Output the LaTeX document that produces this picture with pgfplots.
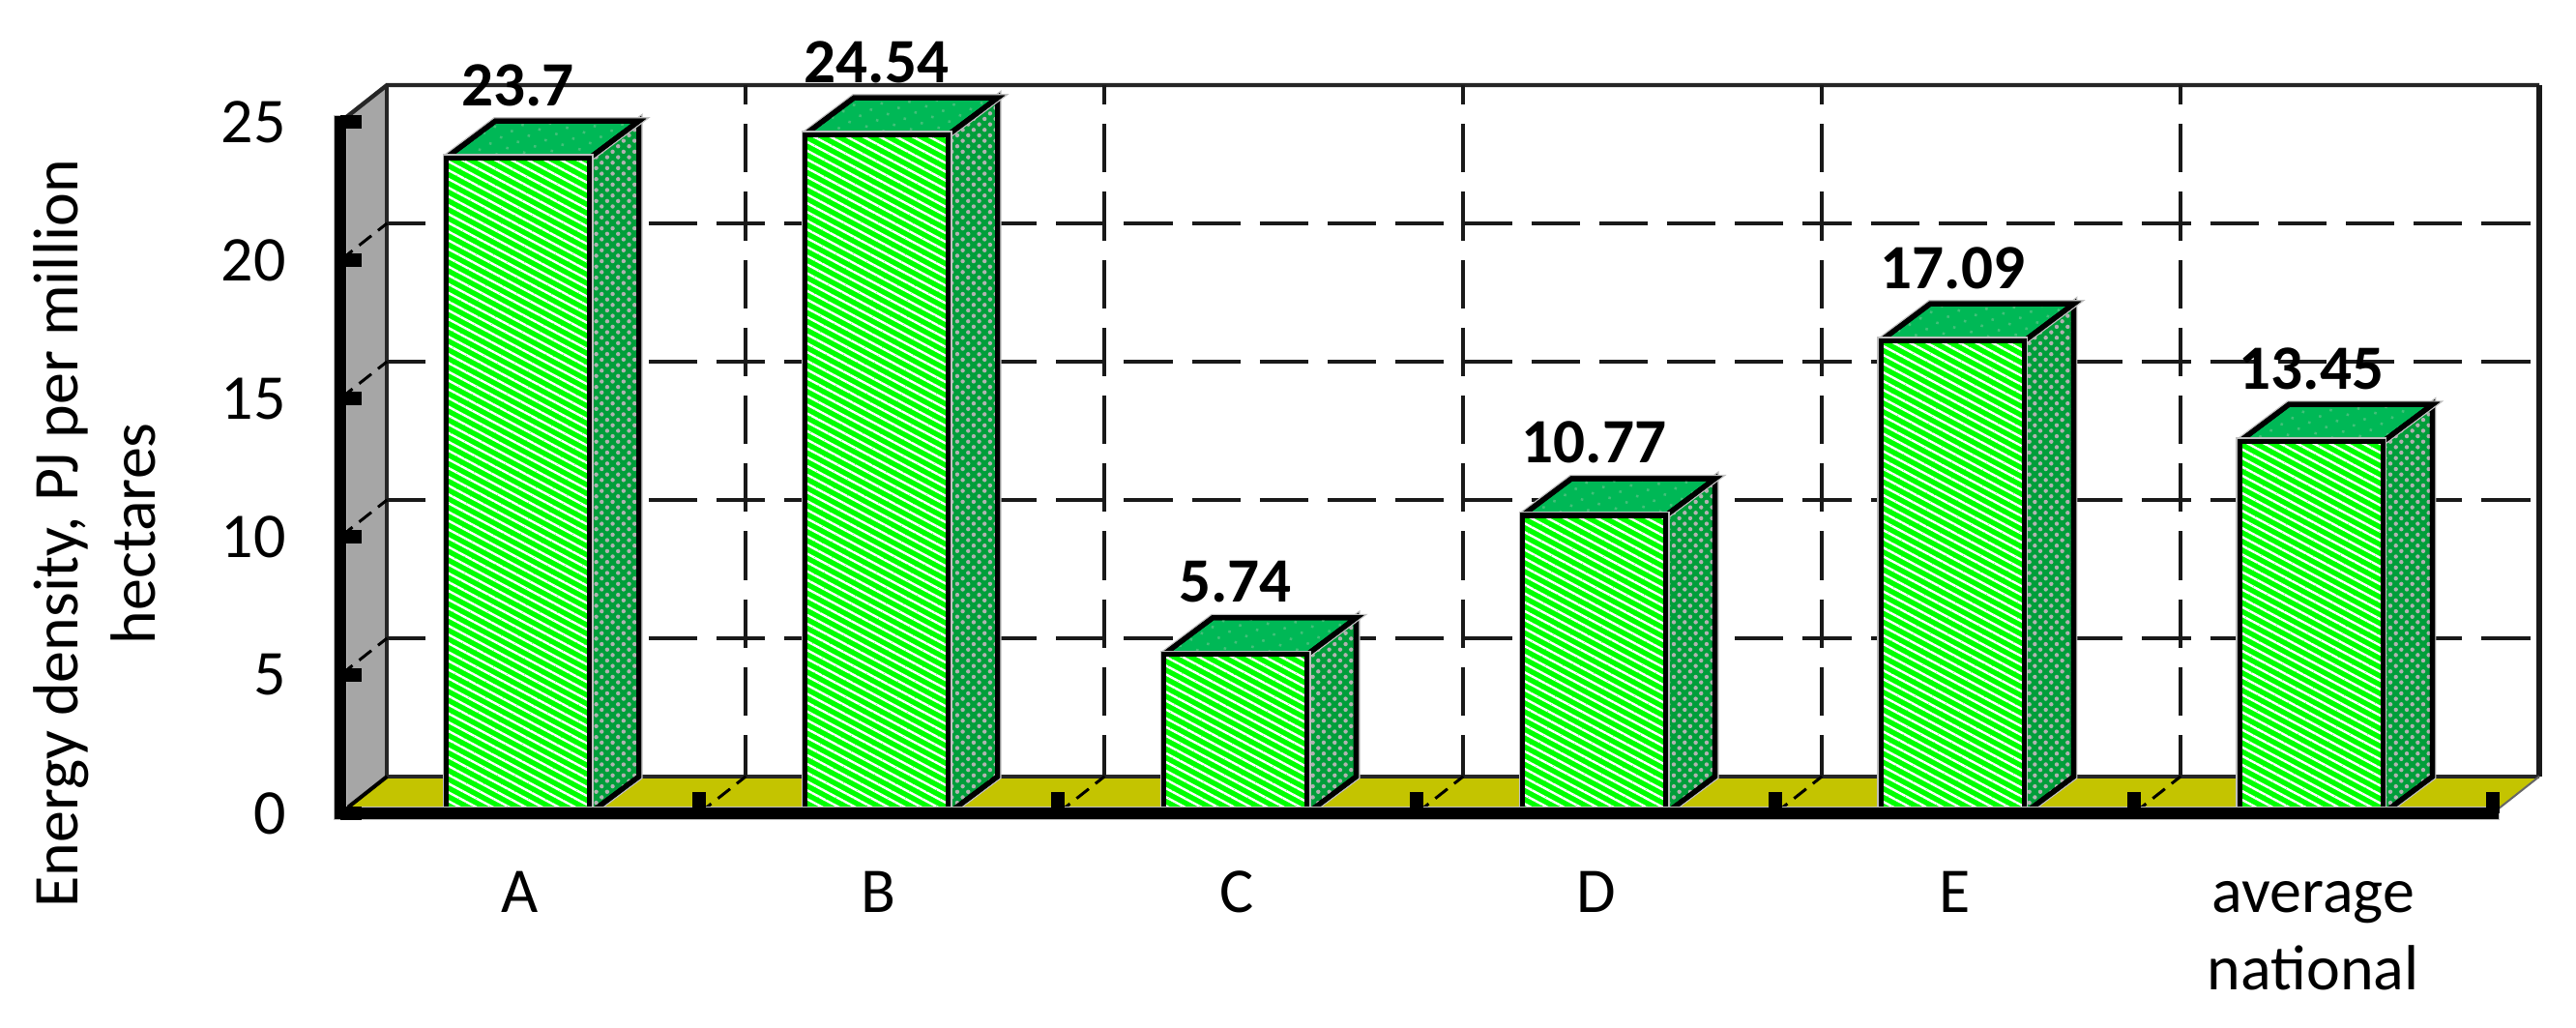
\documentclass[border=0pt]{standalone}
\usepackage{fontspec}
\setmainfont{Carlito}
\usepackage{pgfplots}
\usepackage{pgfplotstable}
\pgfplotsset{compat=1.18}
\usetikzlibrary{patterns.meta}

\definecolor{wallgray}{HTML}{A6A6A6}
\definecolor{floorcol}{HTML}{C4C400}
\definecolor{frontgreen}{HTML}{00FF00}
\definecolor{sidegreen}{HTML}{009E3A}
\definecolor{topgreen}{HTML}{00B856}
\definecolor{topspeck}{HTML}{40C078}

\pgfplotstableread{
pos   val
0.495 23.7
1.495 24.54
2.495 5.74
3.495 10.77
4.495 17.09
5.495 13.45
}\bardata

% bar depth in data units
\def\bdx{0.137}
\def\bdy{1.33}
\def\bhalf{0.2}

\begin{document}
\begin{tikzpicture}
\useasboundingbox (-88pt,-55.25pt) rectangle (578pt,210.25pt);
\begin{axis}[
    scale only axis,
    width=568.5pt,
    height=188.25pt,
    at={(0,0)},
    anchor=south west,
    xmin=0, xmax=6.13,
    ymin=0, ymax=26.33,
    clip=false,
    axis on top,
    axis line style={draw=none},
    xtick={0.5,1.5,2.5,3.5,4.5,5.5},
    xticklabels={\strut A,\strut B,\strut C,\strut D,\strut E,{\strut average\\\strut national}},
    minor xtick={1,2,3,4,5,6},
    ytick={0,5,10,15,20,25},
    xtick pos=bottom,
    ytick pos=left,
    tick align=inside,
    major x tick style={draw=none},
    minor x tick style={draw=black,line width=3.6pt},
    minor tick length=5.5pt,
    major y tick style={draw=black,line width=3.5pt},
    major tick length=5.5pt,
    tick label style={font=\fontsize{16.5}{20}\selectfont},
    /pgf/number format/assume math mode=true,
    xticklabel style={align=center,anchor=north,yshift=-8.2pt},
    yticklabel style={anchor=east,xshift=-10.5pt},
    ylabel={Energy density, PJ per million\\hectares},
    ylabel style={at={(axis description cs:-0.1117,0.384)},anchor=center,align=center,
        font=\fontsize{16.5}{20}\selectfont},
]

% walls and floor
\addplot[fill=wallgray,draw=none] coordinates {(0,0) (0.13,1.33) (0.13,26.33) (0,25) (0,0)};
\addplot[fill=floorcol,draw=none] coordinates {(0,0) (6,0) (6.13,1.33) (0.13,1.33) (0,0)};

% back wall frame
\addplot[black!85,line width=1.1pt] coordinates {(0,25) (0.13,26.33) (6.13,26.33)};
\addplot[black!90,line width=1.5pt] coordinates {(6.13,26.33) (6.13,1.33)};
\addplot[black!85,line width=1.1pt] coordinates {(0.13,26.33) (0.13,1.33) (6.13,1.33)};
\addplot[black,line width=1pt] coordinates {(0,0) (0.13,1.33)};
\addplot[black!60,line width=.5pt] coordinates {(6,0) (6.13,1.33)};

% dashed grid on the back wall
\pgfplotsset{griddash/.style={black!90,line width=1.15pt,dash pattern=on 12.55pt off 5pt}}
\addplot[griddash,dash phase=2.5pt] coordinates {(0.13,6.33) (6.13,6.33)};
\addplot[griddash,dash phase=2.5pt] coordinates {(0.13,11.33) (6.13,11.33)};
\addplot[griddash,dash phase=2.5pt] coordinates {(0.13,16.33) (6.13,16.33)};
\addplot[griddash,dash phase=2.5pt] coordinates {(0.13,21.33) (6.13,21.33)};
\addplot[griddash,dash phase=7.5pt] coordinates {(1.13,26.33) (1.13,1.33)};
\addplot[griddash,dash phase=7.5pt] coordinates {(2.13,26.33) (2.13,1.33)};
\addplot[griddash,dash phase=7.5pt] coordinates {(3.13,26.33) (3.13,1.33)};
\addplot[griddash,dash phase=7.5pt] coordinates {(4.13,26.33) (4.13,1.33)};
\addplot[griddash,dash phase=7.5pt] coordinates {(5.13,26.33) (5.13,1.33)};

% short dashes from the front ticks to the wall
\pgfplotsset{depthdash/.style={black,line width=.75pt,dash pattern=on 4pt off 2.2pt}}
\addplot[depthdash] coordinates {(0,5) (0.13,6.33)};
\addplot[depthdash] coordinates {(0,10) (0.13,11.33)};
\addplot[depthdash] coordinates {(0,15) (0.13,16.33)};
\addplot[depthdash] coordinates {(0,20) (0.13,21.33)};
\addplot[depthdash] coordinates {(1,0) (1.13,1.33)};
\addplot[depthdash] coordinates {(2,0) (2.13,1.33)};
\addplot[depthdash] coordinates {(3,0) (3.13,1.33)};
\addplot[depthdash] coordinates {(4,0) (4.13,1.33)};
\addplot[depthdash] coordinates {(5,0) (5.13,1.33)};

% side and top of each bar
\pgfplotsinvokeforeach{0,...,5}{
    \pgfplotstablegetelem{#1}{pos}\of\bardata \let\bpos\pgfplotsretval
    \pgfplotstablegetelem{#1}{val}\of\bardata \let\bval\pgfplotsretval
    \pgfmathsetmacro\bl{\bpos-\bhalf}
    \pgfmathsetmacro\br{\bpos+\bhalf}
    \pgfmathsetmacro\blb{\bl+\bdx}
    \pgfmathsetmacro\brb{\br+\bdx}
    \pgfmathsetmacro\vb{\bval+\bdy}
    \addplot[draw=black,line width=1.3pt,fill=sidegreen,
        preaction={draw=black!25,line width=2pt},
        postaction={pattern={Dots[radius=.55pt,distance=2pt,angle=45]},pattern color=black!30}]
        coordinates {(\br,0) (\brb,\bdy) (\brb,\vb) (\br,\bval) (\br,0)};
    \addplot[draw=black,line width=1.3pt,fill=topgreen,
        preaction={draw=black!25,line width=2pt},
        postaction={pattern={Dots[radius=.45pt,distance=3.2pt,angle=30]},pattern color=topspeck}]
        coordinates {(\bl,\bval) (\blb,\vb) (\brb,\vb) (\br,\bval) (\bl,\bval)};
}

% front faces
\addplot[ybar,bar width=37pt,draw=black,line width=1.3pt,fill=frontgreen,
    preaction={draw=black!25,line width=2pt},
    postaction={pattern={Lines[angle=-28,distance=2pt,line width=.6pt]},pattern color=white},
    nodes near coords,
    every node near coord/.append style={anchor=base,yshift=13.5pt,
        font=\fontsize{16.3}{18}\selectfont\bfseries,text=black},
] table[x=pos,y=val] {\bardata};

% heavy front axis lines
\addplot[black!25,line width=3.7pt,line cap=rect] coordinates {(0,25) (0,0) (6,0)};
\addplot[black,line width=3pt,line cap=rect] coordinates {(0,25) (0,0) (6,0)};

\end{axis}
\end{tikzpicture}
\end{document}
